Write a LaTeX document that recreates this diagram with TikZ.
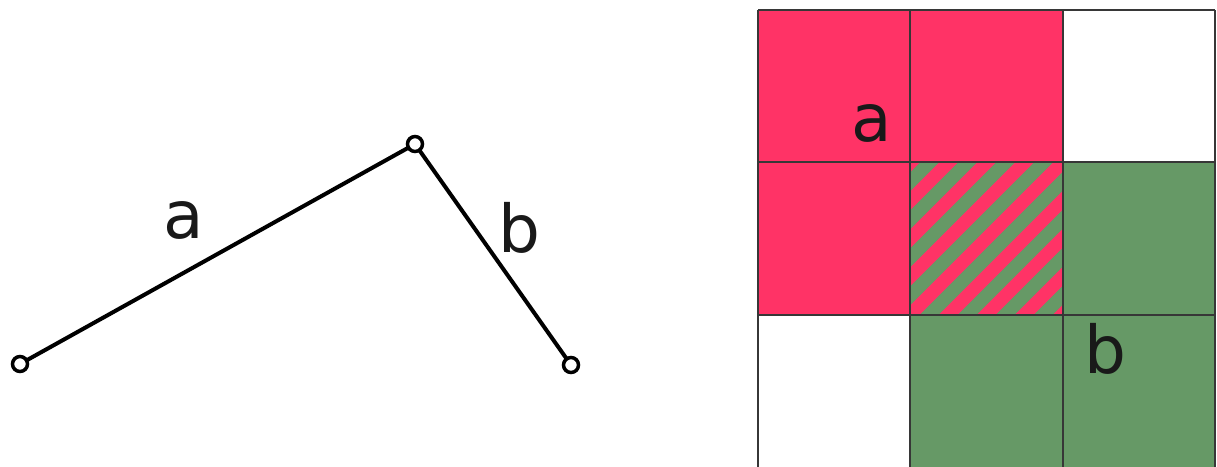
\documentclass[tikz,border=0pt]{standalone}
\usepackage{fontspec}
\setmainfont{DejaVu Sans}
\definecolor{pinkc}{RGB}{255,51,102}
\definecolor{greenc}{RGB}{102,153,102}
\definecolor{gridc}{RGB}{55,55,55}
\tikzset{
  pt/.style={circle,draw=black,line width=3.5pt,fill=white,minimum size=15pt,inner sep=0pt},
  seg/.style={line width=4pt,black},
  lbl/.style={font=\fontsize{66}{72}\selectfont,inner sep=0pt,text=black!90},
  cellline/.style={draw=gridc,line width=1.8pt}
}
\begin{document}
\begin{tikzpicture}[x=1pt,y=-1pt]
\useasboundingbox (0,0) rectangle (1217,466);
% left graph
\coordinate (P1) at (20,364);
\coordinate (P2) at (415,144);
\coordinate (P3) at (571,365);
\draw[seg] (P1) -- (P2) -- (P3);
\node[pt] (n1) at (P1) {};
\node[pt] (n2) at (P2) {};
\node[pt] (n3) at (P3) {};
\node[lbl] (la) at (184,220) {a};
\node[lbl] (lb) at (519,228) {b};
% grid
\def\xa{758}\def\xb{910.3}\def\xc{1062.7}\def\xd{1215}
\def\ya{10}\def\yb{162.3}\def\yc{314.7}\def\yd{472}
\fill[pinkc] (\xa,\ya) rectangle (\xc,\yb);
\fill[pinkc] (\xa,\yb) rectangle (\xb,\yc);
\fill[greenc] (\xc,\yb) rectangle (\xd,\yd);
\fill[greenc] (\xb,\yc) rectangle (\xd,\yd);
\begin{scope}
\clip (\xb,\yb) rectangle (\xc,\yc);
\fill[greenc] (\xb,\yb) rectangle (\xc,\yc);
\foreach \i in {-6,...,6} {
  \draw[pinkc,line width=13.4pt] ({\xb+76+\i*38-250},{\yc+250}) -- ({\xb+76+\i*38+250},{\yc-250});
}
\end{scope}
\foreach \x in {\xa,\xb,\xc,\xd} \draw[cellline] (\x,\ya) -- (\x,\yd);
\foreach \y in {\ya,\yb,\yc} \draw[cellline] (\xa,\y) -- (\xd,\y);
\node[lbl] (ga) at (872,123) {a};
\node[lbl] (gb) at (1105,349) {b};
\end{tikzpicture}
\end{document}
